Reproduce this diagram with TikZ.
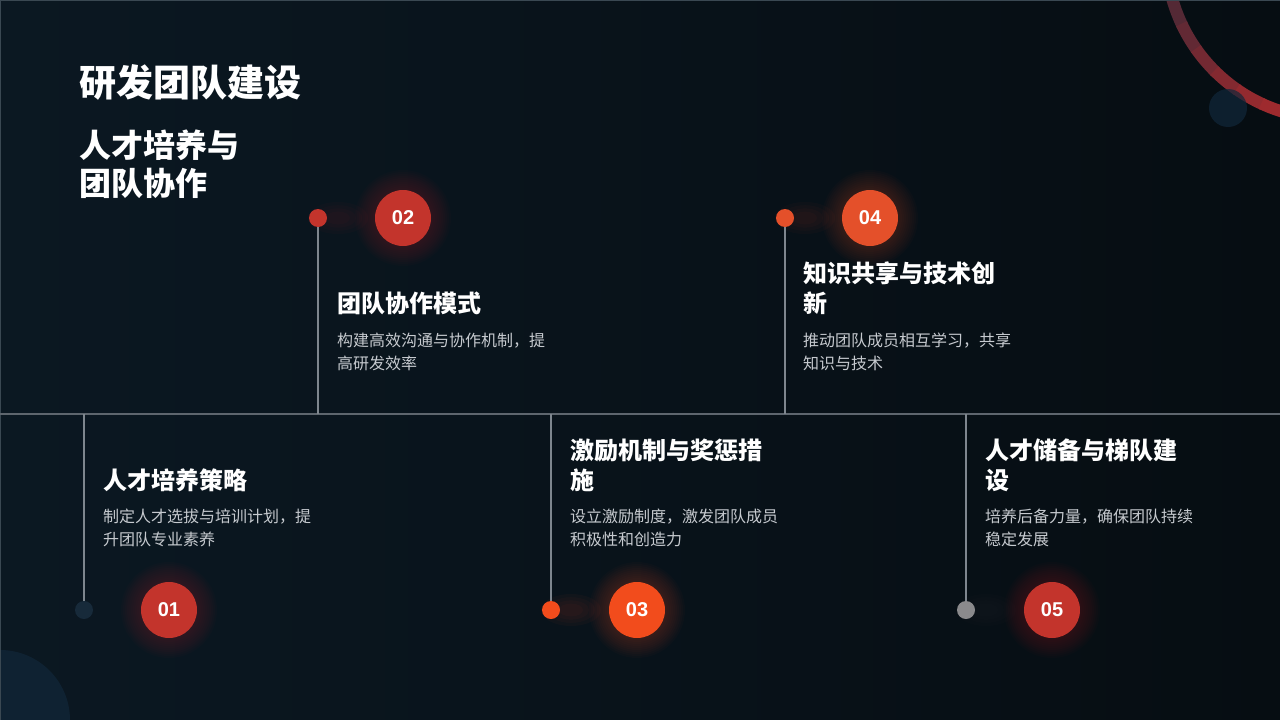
\documentclass[tikz,border=0pt]{standalone}
\usepackage{fontspec}
\setmainfont{Liberation Sans}
\newfontfamily\cjk{Noto Sans CJK SC}
\definecolor{bgA}{HTML}{0B1822}
\definecolor{bgB}{HTML}{060D12}
\definecolor{edge}{HTML}{3A4852}
\definecolor{hline}{HTML}{5E666E}
\definecolor{vline}{HTML}{7E868E}
\definecolor{desc}{HTML}{C6CACF}
\definecolor{cRed}{HTML}{C3342C}
\definecolor{cOrange}{HTML}{F24C1C}
\definecolor{cOrRed}{HTML}{E4502A}
\definecolor{dBlue}{HTML}{172A3A}
\definecolor{dGrey}{HTML}{8A8A8C}
\definecolor{arcRed}{HTML}{B02A2C}
\definecolor{arcFade}{HTML}{3A2838}
\definecolor{blob}{HTML}{11273A}
\begin{document}
\begin{tikzpicture}[x=1pt,y=-1pt,
  numc/.style={circle,minimum size=56pt,inner sep=0pt,text=white,font=\fontsize{20}{20}\selectfont\bfseries},
  dotc/.style={circle,minimum size=18pt,inner sep=0pt},
  cardtitle/.style={anchor=base west,inner sep=0pt,text=white,font=\cjk\bfseries\fontsize{24}{24}\selectfont},
  carddesc/.style={anchor=base west,inner sep=0pt,text=desc,font=\cjk\fontsize{16}{16}\selectfont},
  conn/.style={draw=vline,line width=1.3pt}
]
\useasboundingbox (0,0) rectangle (1280,720);
\shade[shading=axis,shading angle=120,left color=bgA,right color=bgB] (0,0) rectangle (1280,720);
\begin{scope}
\clip (0,0) rectangle (1280,720);
% bottom-left blob
\fill[blob,opacity=0.7] (0,720) circle (70);
% top-right arc with gradient
\foreach \a/\b/\m in {175/165/12,165/155/22,155/145/34,145/135/48,135/125/62,125/115/75,115/105/85,105/95/92}{
  \draw[line width=12pt,arcRed!\m!arcFade] (1331,-46) ++(\a:165) arc[start angle=\a,end angle=\b-0.5,radius=165];
}
\fill[blob,opacity=0.7] (1228,108) circle (19);
\end{scope}
\draw[edge,line width=1.2pt] (0,720) -- (0,0.5) -- (1280,0.5);

% title
\node[anchor=base west,inner sep=0pt,text=white,font=\cjk\bfseries\fontsize{37}{37}\selectfont] (title) at (79,96) {研发团队建设};
\node[anchor=base west,inner sep=0pt,text=white,font=\cjk\bfseries\fontsize{32}{32}\selectfont] (sub1) at (79,157) {人才培养与};
\node[anchor=base west,inner sep=0pt,text=white,font=\cjk\bfseries\fontsize{32}{32}\selectfont] (sub2) at (79,195) {团队协作};

% timeline coordinates
\coordinate (hl) at (0,414);
\coordinate (hr) at (1280,414);
\coordinate (h1) at (84,414);
\coordinate (h2) at (318,414);
\coordinate (h3) at (551,414);
\coordinate (h4) at (785,414);
\coordinate (h5) at (966,414);
\coordinate (p1) at (169,610);
\coordinate (p2) at (403,218);
\coordinate (p3) at (637,610);
\coordinate (p4) at (870,218);
\coordinate (p5) at (1052,610);

% halos (smooth glow)
\foreach \p/\c in {p1/cRed,p2/cRed,p3/cOrange,p4/cOrRed,p5/cRed}{
  \foreach \r in {48,46,...,30}{
    \fill[\c,opacity=0.022] (\p) circle (\r);
  }
}
% faint glow between dot and circle
\foreach \x/\y/\c/\o in {318/218/cRed/0.03,551/610/cOrange/0.035,785/218/cOrRed/0.03,966/610/dGrey/0.015}{
  \foreach \s in {1,0.8,0.6,0.4}{
    \fill[\c,opacity=\o] (\x+20,\y) ellipse ({30*\s} and {16*\s});
  }
}

\draw[draw=hline,line width=1.3pt] (hl) -- (hr);

% dots
\node[dotc,fill=dBlue] (d1) at (84,610) {};
\node[dotc,fill=cRed] (d2) at (318,218) {};
\node[dotc,fill=cOrange] (d3) at (551,610) {};
\node[dotc,fill=cOrRed] (d4) at (785,218) {};
\node[dotc,fill=dGrey] (d5) at (966,610) {};

\draw[conn] (h1) -- (d1.north);
\draw[conn] (d2.south) -- (h2);
\draw[conn] (h3) -- (d3.north);
\draw[conn] (d4.south) -- (h4);
\draw[conn] (h5) -- (d5.north);

% numbered circles
\node[numc,fill=cRed] (n1) at (p1) {01};
\node[numc,fill=cRed] (n2) at (p2) {02};
\node[numc,fill=cOrange] (n3) at (p3) {03};
\node[numc,fill=cOrRed] (n4) at (p4) {04};
\node[numc,fill=cRed] (n5) at (p5) {05};

% card 1
\node[cardtitle] (t1) at (103,489) {人才培养策略};
\node[carddesc] (t1a) at (103,522) {制定人才选拔与培训计划，提};
\node[carddesc] (t1b) at (103,545) {升团队专业素养};
% card 2
\node[cardtitle] (t2) at (337,312) {团队协作模式};
\node[carddesc] (t2a) at (337,346) {构建高效沟通与协作机制，提};
\node[carddesc] (t2b) at (337,369) {高研发效率};
% card 3
\node[cardtitle] (t3) at (570,459) {激励机制与奖惩措};
\node[cardtitle] (t3b) at (570,489) {施};
\node[carddesc] (t3c) at (570,522) {设立激励制度，激发团队成员};
\node[carddesc] (t3d) at (570,545) {积极性和创造力};
% card 4
\node[cardtitle] (t4) at (803,282) {知识共享与技术创};
\node[cardtitle] (t4b) at (803,312) {新};
\node[carddesc] (t4c) at (803,346) {推动团队成员相互学习，共享};
\node[carddesc] (t4d) at (803,369) {知识与技术};
% card 5
\node[cardtitle] (t5) at (985,459) {人才储备与梯队建};
\node[cardtitle] (t5b) at (985,489) {设};
\node[carddesc] (t5c) at (985,522) {培养后备力量，确保团队持续};
\node[carddesc] (t5d) at (985,545) {稳定发展};
\end{tikzpicture}
\end{document}
